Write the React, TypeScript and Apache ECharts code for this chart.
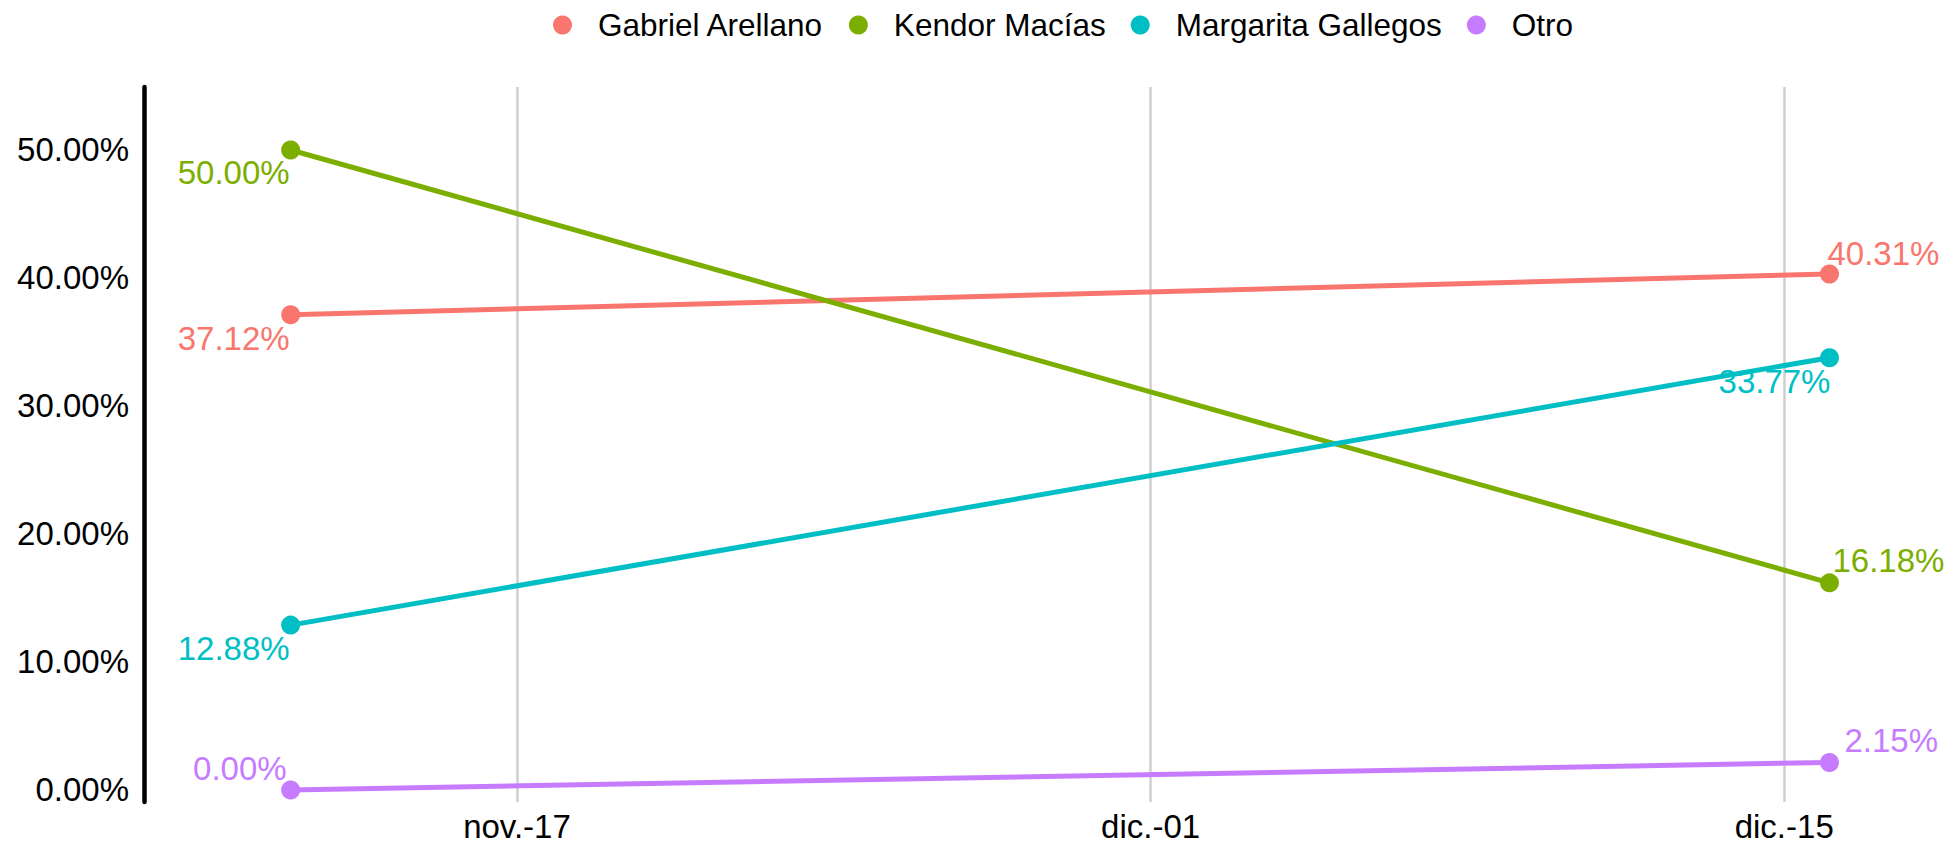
import React, { useEffect, useRef } from "react";
import * as echarts from "echarts";

const seriesNames = ["Gabriel Arellano", "Kendor Macías", "Margarita Gallegos", "Otro"];
const seriesColors = ["#F8766D", "#7CAE00", "#00BFC4", "#C77CFF"];
const pollDates = [Date.UTC(2022, 10, 12), Date.UTC(2022, 11, 16)];
const gabrielValues = [0.3712, 0.4031];
const kendorValues = [0.5, 0.1618];
const margaritaValues = [0.1288, 0.3377];
const otroValues = [0.0, 0.0215];
const xTickDates = [Date.UTC(2022, 10, 17), Date.UTC(2022, 11, 1), Date.UTC(2022, 11, 15)];
const xTickLabels = ["nov.-17", "dic.-01", "dic.-15"];
const yTicks = [0, 0.1, 0.2, 0.3, 0.4, 0.5];

const DAY = 86400000;

// label placement per series / point: [align, verticalAlign, dx, dy]
const labelPlacement: [string, string, number, number][][] = [
  [["right", "top", -1, 7], ["left", "bottom", -2, -4]],
  [["right", "top", -1, 6], ["left", "bottom", 3, -6]],
  [["right", "top", -1, 7], ["right", "top", 1, 7]],
  [["right", "bottom", -4, -5], ["left", "bottom", 15, -5]],
];

const FONT = "'Liberation Sans', Arial, sans-serif";

export default function App() {
  const ref = useRef<HTMLDivElement>(null);
  useEffect(() => {
    if (!ref.current) return;
    const chart = echarts.init(ref.current, undefined, { renderer: "svg" });
    const allValues = [gabrielValues, kendorValues, margaritaValues, otroValues];
    const fmtPct = (v: number) => (v * 100).toFixed(2) + "%";
    const series: any[] = allValues.map((vals, si) => ({
      name: seriesNames[si],
      type: "line",
      symbol: "circle",
      symbolSize: 19,
      z: 3,
      lineStyle: { color: seriesColors[si], width: 5 },
      itemStyle: { color: seriesColors[si], borderWidth: 0 },
      emphasis: { disabled: true },
      data: vals.map((v, pi) => {
        const [align, va, dx, dy] = labelPlacement[si][pi];
        return {
          value: [pollDates[pi], v],
          label: {
            show: true,
            position: ["50%", "50%"],
            align,
            verticalAlign: va,
            offset: [dx, dy],
            formatter: () => fmtPct(v),
            color: seriesColors[si],
            fontSize: 33,
            lineHeight: 33,
            fontFamily: FONT,
          },
        };
      }),
    }));
    chart.setOption({
      animation: false,
      textStyle: { fontFamily: FONT },
      legend: {
        data: seriesNames,
        left: 553,
        top: 9,
        padding: 0,
        icon: "circle",
        itemWidth: 19,
        itemHeight: 19,
        itemGap: 25,
        selectedMode: false,
        textStyle: { fontSize: 31.5, color: "#000", fontFamily: FONT, padding: [0, 0, 0, 21] },
      },
      grid: { left: 144, right: 34, top: 87, bottom: 41, containLabel: false },
      xAxis: {
        type: "value",
        min: xTickDates[0] - 8.24 * DAY,
        max: xTickDates[2] + 3 * DAY,
        axisLine: { show: false },
        axisTick: { show: false, customValues: xTickDates },
        splitLine: { show: true, lineStyle: { color: "#cfcfcf", width: 2.5 } },
        axisLabel: {
          customValues: xTickDates,
          fontSize: 33,
          lineHeight: 28,
          color: "#000",
          margin: 10,
          fontFamily: FONT,
          formatter: (val: number) => {
            const i = xTickDates.findIndex((d) => Math.abs(d - val) < DAY / 2);
            return i >= 0 ? xTickLabels[i] : "";
          },
        },
      },
      yAxis: {
        type: "value",
        min: -0.0094,
        max: 0.5492,
        axisLine: { show: true, lineStyle: { color: "#000", width: 4.5 } },
        axisTick: { show: false, customValues: yTicks },
        splitLine: { show: false },
        axisLabel: {
          customValues: yTicks,
          fontSize: 33,
          color: "#000",
          margin: 15,
          fontFamily: FONT,
          formatter: (v: number) => fmtPct(v),
        },
      },
      series,
    });
    return () => chart.dispose();
  }, []);
  return (
    <div
      ref={ref}
      style={{ position: "fixed", left: 0, top: 0, width: 1954, height: 843, background: "#fff" }}
    />
  );
}
